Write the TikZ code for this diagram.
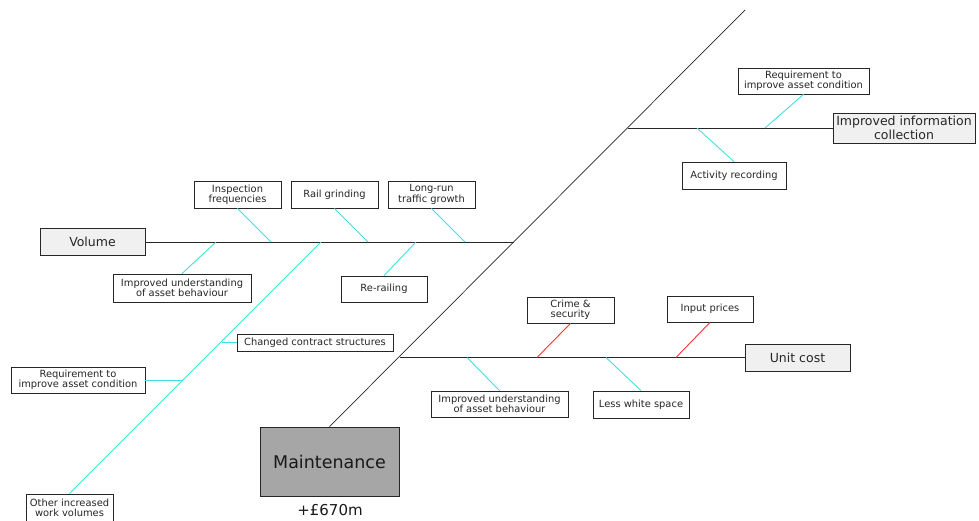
\documentclass[tikz,border=0pt]{standalone}
\usepackage{fontspec}
\setmainfont{DejaVu Sans}
\definecolor{branchcyan}{RGB}{64,224,224}
\definecolor{branchred}{RGB}{250,50,50}
\begin{document}
\begin{tikzpicture}[x=1pt,y=-1pt,
  cause/.style={draw=black!85,line width=0.8pt,fill=white,inner sep=0pt,align=center,
    text=black!85,font=\fontsize{9.9}{10.4}\selectfont},
  effect/.style={draw=black!85,line width=0.8pt,fill=black!6,inner sep=0pt,align=center,
    text=black!85,font=\fontsize{12.5}{13.5}\selectfont},
  spine/.style={draw=black!85,line width=0.7pt},
  lnk/.style={draw=branchcyan,line width=0.9pt},
  hot/.style={draw=branchred,line width=0.9pt}]
\useasboundingbox (0,0) rectangle (979,521);

% head box and main spine
\node[draw=black!85,line width=0.8pt,fill=black!35,minimum width=139pt,minimum height=69pt,
  font=\fontsize{17.5}{19}\selectfont,text=black!90] (maint) at (329.5,461.5) {Maintenance};
\node[font=\fontsize{15}{17}\selectfont,text=black!90] (total) at (330,510) {+£670m};
\coordinate (head) at (745,10);
\draw[spine] (maint.north) -- (head);

% main categories
\node[effect,minimum width=105pt,minimum height=27pt] (vol) at (92.5,242) {Volume};
\node[effect,minimum width=142pt,minimum height=30pt] (info) at (904,128) {Improved information\\collection};
\node[effect,minimum width=105pt,minimum height=27pt] (unit) at (797.5,357.5) {Unit cost};

\coordinate (sv) at (513.8,242);
\coordinate (si) at (628,128);
\coordinate (su) at (399.5,357.5);
\draw[spine] (vol.east) -- (sv);
\draw[spine] (info.west) -- (si);
\draw[spine] (unit.west) -- (su);

% Volume causes
\node[cause,minimum width=87pt,minimum height=27pt] (insp) at (237.5,194.5) {Inspection\\frequencies};
\node[cause,minimum width=87pt,minimum height=27pt] (grind) at (334.5,194.5) {Rail grinding};
\node[cause,minimum width=87pt,minimum height=27pt] (traffic) at (431.5,194.5) {Long-run\\traffic growth};
\node[cause,minimum width=138pt,minimum height=28pt] (undL) at (182,288) {Improved understanding\\of asset behaviour};
\node[cause,minimum width=86pt,minimum height=26pt] (rerail) at (384,289) {Re-railing};
\coordinate (v1) at (271,242);
\coordinate (v2) at (368,242);
\coordinate (v3) at (465,242);
\coordinate (v4) at (216,242);
\coordinate (v5) at (416,242);
\draw[lnk] (insp.south) -- (v1);
\draw[lnk] (grind.south) -- (v2);
\draw[lnk] (traffic.south) -- (v3);
\draw[lnk] (undL.north) -- (v4);
\draw[lnk] (rerail.north) -- (v5);

% long sub-branch of Volume
\node[cause,minimum width=87pt,minimum height=28pt] (other) at (69.5,508) {Other increased\\work volumes};
\node[cause,minimum width=156pt,minimum height=17pt] (contract) at (315,342.5) {Changed contract structures};
\node[cause,minimum width=134pt,minimum height=26pt] (reqL) at (78,380) {Requirement to\\improve asset condition};
\coordinate (v6) at (321,242);
\coordinate (d1) at (221.5,342.5);
\coordinate (d2) at (183,380);
\draw[lnk] (v6) -- (other.north);
\draw[lnk] (d1) -- (contract.west);
\draw[lnk] (reqL.east) -- (d2);

% Improved information collection causes
\node[cause,minimum width=131pt,minimum height=26pt] (reqR) at (803.5,81) {Requirement to\\improve asset condition};
\node[cause,minimum width=104pt,minimum height=27pt] (activity) at (734,175.5) {Activity recording};
\coordinate (i1) at (765,128);
\coordinate (i2) at (697,128);
\draw[lnk] (reqR.south) -- (i1);
\draw[lnk] (activity.north) -- (i2);

% Unit cost causes
\node[cause,minimum width=87pt,minimum height=26pt] (crime) at (570.5,310) {Crime \&\\security};
\node[cause,minimum width=86pt,minimum height=26pt] (input) at (710,309) {Input prices};
\node[cause,minimum width=137pt,minimum height=26pt] (undU) at (499.5,404) {Improved understanding\\of asset behaviour};
\node[cause,minimum width=96pt,minimum height=27pt] (white) at (641,404.5) {Less white space};
\coordinate (u1) at (537,357.5);
\coordinate (u2) at (676,357.5);
\coordinate (u3) at (467,357.5);
\coordinate (u4) at (606,357.5);
\draw[hot] (crime.south) -- (u1);
\draw[hot] (input.south) -- (u2);
\draw[lnk] (undU.north) -- (u3);
\draw[lnk] (white.north) -- (u4);
\end{tikzpicture}
\end{document}
